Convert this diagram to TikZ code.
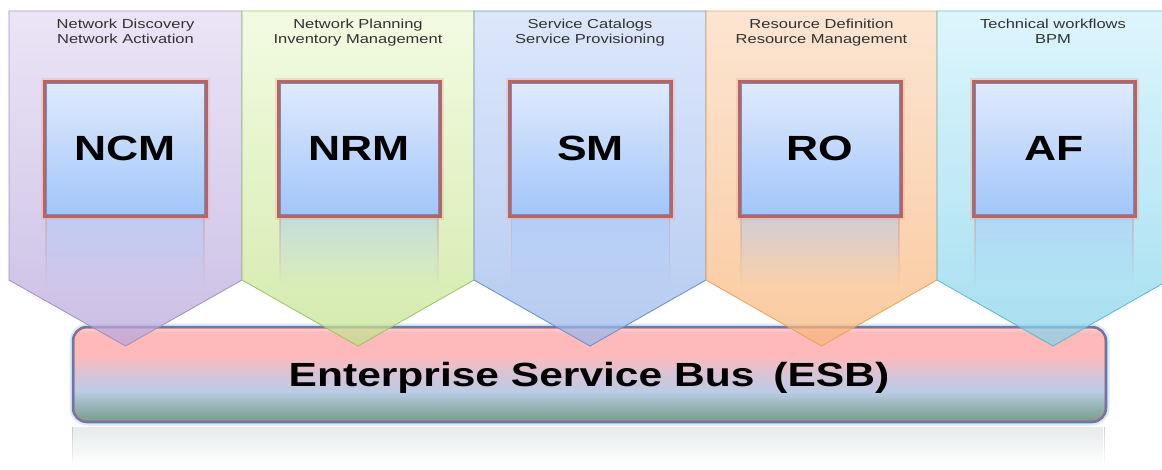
\documentclass[tikz,border=0pt]{standalone}
\usepackage{fontspec}
\setmainfont{Liberation Sans}
\usepackage{graphicx}
\usetikzlibrary{fadings}

\definecolor{esbA}{RGB}{254,186,186}
\definecolor{esbTop}{RGB}{255,212,212}
\definecolor{esbB}{RGB}{186,204,230}
\definecolor{esbB2}{RGB}{215,196,214}
\definecolor{esbC}{RGB}{118,156,140}
\definecolor{esbC2}{RGB}{150,180,180}
\definecolor{esbblue}{RGB}{80,128,190}
\definecolor{esbred}{RGB}{210,90,85}
\definecolor{esbrefl}{RGB}{210,218,218}

\definecolor{boxtop}{RGB}{224,234,252}
\definecolor{boxbot}{RGB}{162,198,250}
\definecolor{boxblue}{RGB}{100,145,210}
\definecolor{boxred}{RGB}{192,98,90}

\definecolor{pAt}{RGB}{228,219,242}\definecolor{pAb}{RGB}{183,166,219}\definecolor{pAl}{RGB}{160,140,195}
\definecolor{pBt}{RGB}{238,250,216}\definecolor{pBb}{RGB}{196,226,142}\definecolor{pBl}{RGB}{155,195,95}
\definecolor{pCt}{RGB}{208,222,251}\definecolor{pCb}{RGB}{152,182,234}\definecolor{pCl}{RGB}{100,140,200}
\definecolor{pDt}{RGB}{251,219,193}\definecolor{pDb}{RGB}{248,182,122}\definecolor{pDl}{RGB}{240,160,80}
\definecolor{pEt}{RGB}{208,242,252}\definecolor{pEb}{RGB}{132,210,234}\definecolor{pEl}{RGB}{90,185,205}
\definecolor{subgray}{RGB}{50,50,50}

\pgfdeclareverticalshading{esbshade}{100bp}{color(0bp)=(esbC); color(25bp)=(esbC); color(33bp)=(esbC2); color(41bp)=(esbB); color(50bp)=(esbB2); color(60bp)=(esbA); color(72bp)=(esbA); color(75bp)=(esbTop); color(100bp)=(esbTop)}

\tikzfading[name=reflfade, top color=transparent!55, bottom color=transparent!100]
\tikzfading[name=esbfade, top color=transparent!45, bottom color=transparent!100]

\newcommand\stretchtxt[1]{\scalebox{1.27}[1]{#1}}

\tikzset{
  pent/.style={line width=0.9pt, fill opacity=0.72, draw opacity=0.9},
  modbox/.style={minimum width=158pt, minimum height=131pt, inner sep=0pt,
    draw=boxblue, line width=0.9pt, top color=boxtop, bottom color=boxbot,
    preaction={draw=boxred!50, line width=11pt, draw opacity=0.35},
    preaction={draw=boxred, line width=7pt},
    font=\fontsize{35}{40}\selectfont\bfseries},
  reflbox/.style={fill=boxbot, path fading=reflfade},
  refledge/.style={draw=boxred!70, line width=1.6pt, path fading=reflfade},
  subtitle/.style={anchor=base, inner sep=0pt, text=subgray, font=\fontsize{13}{15}\selectfont},
  esbbox/.style={minimum width=1033pt, minimum height=95pt, inner sep=0pt,
    rounded corners=14pt, shade, shading=esbshade, draw=esbblue, line width=2.5pt,
    preaction={draw=esbblue!50, line width=7pt, draw opacity=0.35}},
  esbtext/.style={anchor=base, inner sep=0pt, font=\fontsize{33.5}{38}\selectfont\bfseries}
}

\begin{document}
\begin{tikzpicture}[x=1pt,y=-1pt]
\useasboundingbox (0,0) rectangle (1162,469);
\clip (0,0) rectangle (1162,469);

% ESB reflection
\path[fill=esbrefl, path fading=esbfade] (73,427) rectangle (1106,466);
\path[draw=esbrefl!80!black, line width=1pt, path fading=esbfade] (73,427) -- (73,466) (1106,427) -- (1106,466);

% ESB
\node[esbbox] (esb) at (589.5,374.5) {};
\draw[esbred, line width=0.8pt, rounded corners=12pt]
  ([shift={(2.2pt,-2.2pt)}]esb.north west) rectangle ([shift={(-2.2pt,2.2pt)}]esb.south east);
\node[esbtext] (esblabel) at (589,386) {\stretchtxt{Enterprise Service Bus\, (ESB)}};

% pentagons
\path[pent, draw=pAl, top color=pAt, bottom color=pAb]
  (9,11) -- (242,11) -- (242,280) -- (125.5,346) -- (9,280) -- cycle;
\path[pent, draw=pBl, top color=pBt, bottom color=pBb]
  (242,11) -- (474,11) -- (474,280) -- (358,346) -- (242,280) -- cycle;
\path[pent, draw=pCl, top color=pCt, bottom color=pCb]
  (474,11) -- (706,11) -- (706,280) -- (590,346) -- (474,280) -- cycle;
\path[pent, draw=pDl, top color=pDt, bottom color=pDb]
  (706,11) -- (937,11) -- (937,280) -- (821.5,346) -- (706,280) -- cycle;
\path[pent, draw=pEl, top color=pEt, bottom color=pEb]
  (937,11) -- (1169,11) -- (1169,280) -- (1053,346) -- (937,280) -- cycle;

% reflections of module boxes
\foreach \cx in {125,359,590.5,820,1054}{
  \path[reflbox] (\cx-79,218) rectangle (\cx+79,286);
  \path[refledge] (\cx-79,218) -- (\cx-79,286) (\cx+79,218) -- (\cx+79,286);
}

% module boxes
\node[modbox] (ncm) at (125,148.5) {\stretchtxt{NCM}};
\node[modbox] (nrm) at (359,148.5) {\stretchtxt{NRM}};
\node[modbox] (sm)  at (590.5,148.5) {\stretchtxt{SM}};
\node[modbox] (ro)  at (820,148.5) {\stretchtxt{RO}};
\node[modbox] (af)  at (1054,148.5) {\stretchtxt{AF}};

% subtitles
\node[subtitle] (t1) at (125.5,28) {\stretchtxt{\begin{tabular}[t]{@{}c@{}}Network Discovery\\Network Activation\end{tabular}}};
\node[subtitle] (t2) at (358,28) {\stretchtxt{\begin{tabular}[t]{@{}c@{}}Network Planning\\Inventory Management\end{tabular}}};
\node[subtitle] (t3) at (590,28) {\stretchtxt{\begin{tabular}[t]{@{}c@{}}Service Catalogs\\Service Provisioning\end{tabular}}};
\node[subtitle] (t4) at (821.5,28) {\stretchtxt{\begin{tabular}[t]{@{}c@{}}Resource Definition\\Resource Management\end{tabular}}};
\node[subtitle] (t5) at (1053,28) {\stretchtxt{\begin{tabular}[t]{@{}c@{}}Technical workflows\\BPM\end{tabular}}};
\end{tikzpicture}
\end{document}
